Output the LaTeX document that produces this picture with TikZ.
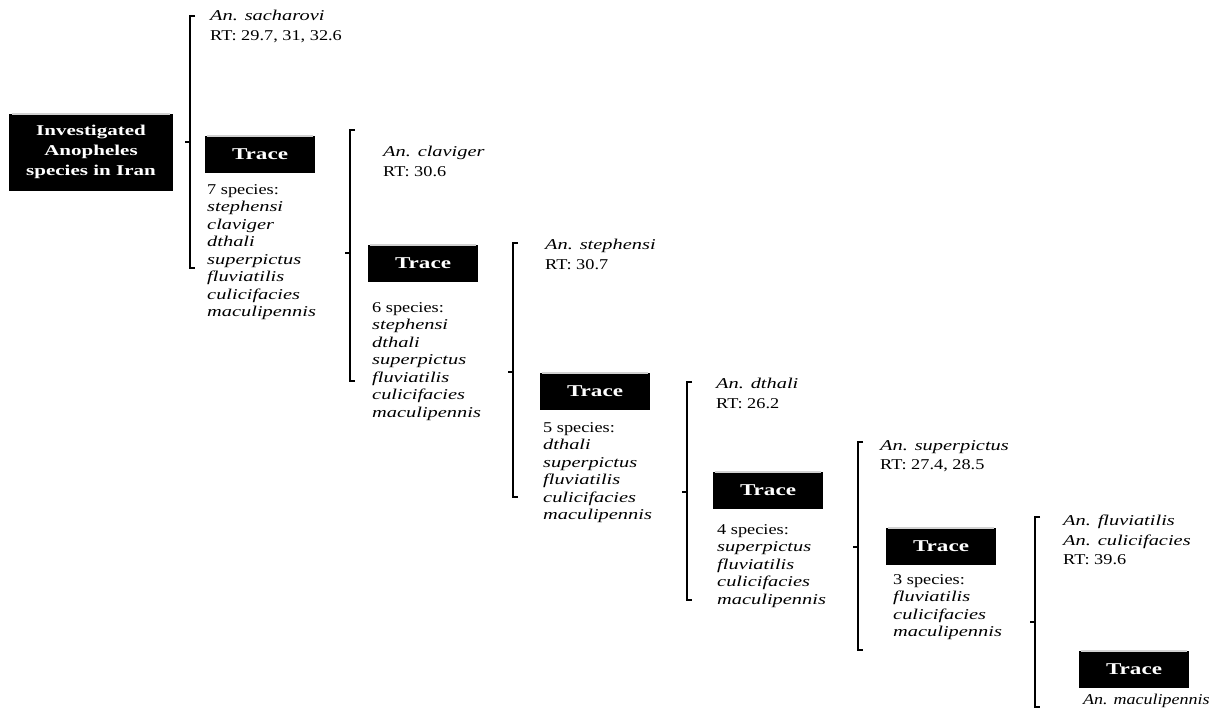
\documentclass[tikz,border=0pt]{standalone}
\usepackage{fontspec}
\setmainfont{Liberation Serif}[FakeStretch=1.22,ItalicFeatures={FakeStretch=1.36}]
\newfontfamily\rootfont{Liberation Serif}[FakeStretch=1.4]
\newfontfamily\tracefont{Liberation Serif}[FakeStretch=1.4]
\newfontfamily\lastfont{Liberation Serif}[FakeStretch=1.2]
\begin{document}
\begin{tikzpicture}[x=1pt,y=-1pt,
  rootbox/.style={fill=black,text=white,font=\rootfont\fontsize{15}{20}\selectfont\bfseries,align=center,minimum width=164pt,minimum height=77pt,inner sep=0pt},
  tracebox/.style={fill=black,text=white,font=\tracefont\fontsize{16.5}{18}\selectfont\bfseries,minimum width=110pt,minimum height=37pt,inner sep=0pt},
  hilite/.style={draw=gray!35,line width=1.6pt},
  brack/.style={draw=black,line width=2.8pt},
  tick/.style={draw=black,line width=2pt},
  hdr/.style={anchor=north west,inner sep=0pt,align=left,font=\fontsize{15}{19.5}\selectfont},
  lst/.style={anchor=north west,inner sep=0pt,align=left,font=\fontsize{15}{17.5}\selectfont}]
\useasboundingbox (0,0) rectangle (1221,709);
\fill[white] (0,0) rectangle (1221,709);

% root
\node[rootbox] (root) at (91,152) {Investigated\\Anopheles\\species in Iran};
\draw[hilite] ([xshift=3pt,yshift=-0.8pt]root.north west) -- ([xshift=-3pt,yshift=-0.8pt]root.north east);

% brackets: coordinates
\foreach \n/\x/\t/\b/\m in {1/190/16/268/142, 2/350/130/381/253, 3/513/243/497/372, 4/687/382/600/492, 5/858/442/650/547, 6/1035/517/707/622}{
  \coordinate (bt\n) at (\x,\t);
  \coordinate (bb\n) at (\x,\b);
  \coordinate (bm\n) at (\x,\m);
  \draw[brack] ([xshift=5pt]bt\n) -- (bt\n) -- (bb\n) -- ([xshift=5pt]bb\n);
  \draw[tick] (bm\n) -- ([xshift=-5pt]bm\n);
}

% trace boxes
\node[tracebox] (t1) at (260,154) {Trace};
\node[tracebox] (t2) at (423,263) {Trace};
\node[tracebox] (t3) at (595,391) {Trace};
\node[tracebox] (t4) at (768,490) {Trace};
\node[tracebox] (t5) at (941,546) {Trace};
\node[tracebox] (t6) at (1134,669) {Trace};
\foreach \n in {1,...,6}{
  \draw[hilite] ([xshift=2pt,yshift=-0.8pt]t\n.north west) -- ([xshift=-2pt,yshift=-0.8pt]t\n.north east);
}

% headers
\node[hdr] (h1) at (210,10) {\textit{An. sacharovi}\\RT: 29.7, 31, 32.6};
\node[hdr] (h2) at (383,146) {\textit{An. claviger}\\RT: 30.6};
\node[hdr] (h3) at (545,239) {\textit{An. stephensi}\\RT: 30.7};
\node[hdr] (h4) at (716,378) {\textit{An. dthali}\\RT: 26.2};
\node[hdr] (h5) at (880,440) {\textit{An. superpictus}\\RT: 27.4, 28.5};
\node[hdr] (h6) at (1063,515) {\textit{An. fluviatilis}\\\textit{An. culicifacies}\\RT: 39.6};

% species lists
\node[lst] (s1) at (207,184) {7 species:\\\textit{stephensi}\\\textit{claviger}\\\textit{dthali}\\\textit{superpictus}\\\textit{fluviatilis}\\\textit{culicifacies}\\\textit{maculipennis}};
\node[lst] (s2) at (372,302) {6 species:\\\textit{stephensi}\\\textit{dthali}\\\textit{superpictus}\\\textit{fluviatilis}\\\textit{culicifacies}\\\textit{maculipennis}};
\node[lst] (s3) at (543,422) {5 species:\\\textit{dthali}\\\textit{superpictus}\\\textit{fluviatilis}\\\textit{culicifacies}\\\textit{maculipennis}};
\node[lst] (s4) at (717,524) {4 species:\\\textit{superpictus}\\\textit{fluviatilis}\\\textit{culicifacies}\\\textit{maculipennis}};
\node[lst] (s5) at (893,574) {3 species:\\\textit{fluviatilis}\\\textit{culicifacies}\\\textit{maculipennis}};
\node[lst] (s6) at (1083,694) {\lastfont\itshape An. maculipennis};
\end{tikzpicture}
\end{document}
